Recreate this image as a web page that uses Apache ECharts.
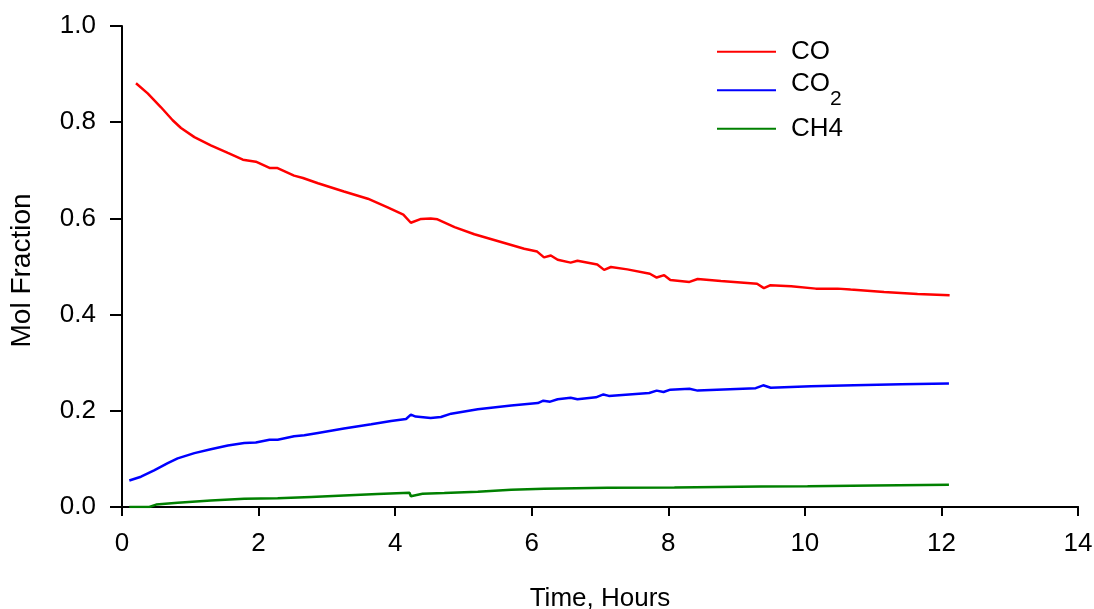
<!DOCTYPE html>
<html>
<head>
<meta charset="utf-8">
<script src="https://cdn.jsdelivr.net/npm/echarts@6/dist/echarts.min.js"></script>
<style>html,body{margin:0;padding:0;background:#fff;}#chart{width:1094px;height:609px;}</style>
</head>
<body>
<div id="chart"></div>
<script>
const seriesNames = ['CO', 'CO2', 'CH4'];
const xTicks = [0, 2, 4, 6, 8, 10, 12, 14];
const yTicks = [0.0, 0.2, 0.4, 0.6, 0.8, 1.0];

const coHours = [0.205,0.376,0.571,0.742,0.864,1.06,1.30,1.55,1.77,1.96,2.16,2.27,2.52,2.65,2.87,3.25,3.60,3.89,4.12,4.23,4.38,4.52,4.62,4.87,5.16,5.55,5.89,6.08,6.18,6.28,6.38,6.57,6.67,6.96,7.06,7.16,7.40,7.73,7.83,7.94,8.03,8.31,8.43,8.77,9.30,9.40,9.49,9.80,10.16,10.48,10.67,11.16,11.65,12.12];
const coValues = [0.881,0.860,0.831,0.804,0.788,0.769,0.752,0.736,0.722,0.718,0.705,0.705,0.689,0.684,0.673,0.656,0.641,0.623,0.608,0.591,0.599,0.600,0.598,0.582,0.567,0.551,0.537,0.531,0.519,0.523,0.514,0.508,0.512,0.504,0.493,0.499,0.494,0.485,0.477,0.482,0.472,0.468,0.474,0.470,0.464,0.455,0.461,0.459,0.454,0.454,0.452,0.447,0.443,0.440];

const co2Hours = [0.107,0.278,0.47,0.67,0.815,1.06,1.30,1.55,1.79,1.96,2.16,2.28,2.52,2.67,2.87,3.25,3.65,3.94,4.16,4.23,4.30,4.52,4.67,4.82,5.21,5.70,6.09,6.17,6.27,6.38,6.57,6.67,6.94,7.05,7.13,7.72,7.83,7.93,8.03,8.31,8.43,9.28,9.39,9.50,10.09,10.72,11.41,12.11];
const co2Values = [0.055,0.063,0.076,0.091,0.101,0.112,0.120,0.128,0.133,0.134,0.140,0.140,0.147,0.149,0.154,0.163,0.172,0.179,0.183,0.192,0.188,0.185,0.187,0.194,0.203,0.211,0.216,0.221,0.219,0.224,0.227,0.224,0.228,0.234,0.231,0.237,0.242,0.239,0.244,0.246,0.242,0.247,0.253,0.248,0.251,0.253,0.255,0.257];

const ch4Hours = [0.107,0.40,0.50,0.815,1.30,1.79,2.28,2.77,3.25,3.74,4.21,4.23,4.40,4.72,5.21,5.70,6.18,7.11,8.09,9.36,10.04,11.01,12.11];
const ch4Values = [0.000,0.000,0.005,0.009,0.0135,0.017,0.018,0.021,0.024,0.027,0.0295,0.0225,0.0275,0.029,0.0316,0.0358,0.0378,0.040,0.0405,0.0426,0.0432,0.0447,0.046];

const colors = ['#ff0000', '#0000ff', '#008000'];
const FONT = 'Liberation Sans, Arial, sans-serif';
const FS = 26;

function pairs(xs, ys) { return xs.map((x, i) => [x, ys[i]]); }

const chart = echarts.init(document.getElementById('chart'));

function legendFor(i, top) {
  return {
    data: [seriesNames[i]],
    left: 717,
    top: top,
    padding: 0,
    orient: 'vertical',
    icon: 'rect',
    itemWidth: 59,
    itemHeight: 2,
    selectedMode: false,
    formatter: function (name) {
      return name === 'CO2' ? '{a|CO}{sub|2}{sp| }' : name;
    },
    textStyle: {
      fontFamily: FONT,
      fontSize: FS,
      color: '#000',
      lineHeight: 26,
      padding: [0, 0, 0, 10],
      rich: {
        a: { fontFamily: FONT, fontSize: FS, lineHeight: 26, verticalAlign: 'top', color: '#000' },
        sub: { fontFamily: FONT, fontSize: 21, lineHeight: 26, verticalAlign: 'bottom', color: '#000' },
        sp: { fontFamily: FONT, fontSize: 1, lineHeight: 38, verticalAlign: 'middle', color: '#000' }
      }
    }
  };
}

chart.setOption({
  animation: false,
  backgroundColor: '#fff',
  color: colors,
  grid: { left: 122, right: 16, top: 26, bottom: 102, containLabel: false, outerBoundsMode: 'none' },
  legend: [legendFor(0, 38.7), legendFor(1, 71.3), legendFor(2, 115.7)],
  xAxis: [{
    type: 'value',
    min: 0, max: 14, interval: 2,
    name: 'Time, Hours',
    nameLocation: 'middle',
    nameGap: 79,
    nameTextStyle: { fontFamily: FONT, fontSize: FS, color: '#000' },
    axisLine: { show: true, onZero: false, lineStyle: { color: '#000', width: 2 } },
    axisTick: { show: true, inside: false, length: 9, lineStyle: { color: '#000', width: 2 } },
    axisLabel: { fontFamily: FONT, fontSize: FS, color: '#000', margin: 24,
      formatter: v => xTicks.includes(v) ? String(v) : '' },
    splitLine: { show: false }
  }, {
    type: 'value',
    position: 'top',
    min: 0, max: 14,
    axisLine: { show: true, lineStyle: { color: '#000', width: 2 } },
    axisTick: { show: false },
    axisLabel: { show: false },
    splitLine: { show: false }
  }],
  yAxis: {
    type: 'value',
    min: 0, max: 1, interval: 0.2,
    name: 'Mol Fraction',
    nameLocation: 'middle',
    nameGap: 86,
    nameTextStyle: { fontFamily: FONT, fontSize: 28, color: '#000', padding: [0, 8, 0, 0] },
    axisLine: { show: true, onZero: false, lineStyle: { color: '#000', width: 2 } },
    axisTick: { show: true, inside: false, length: 12, lineStyle: { color: '#000', width: 2 } },
    axisLabel: { fontFamily: FONT, fontSize: FS, color: '#000', margin: 26,
      formatter: v => yTicks.some(t => Math.abs(t - v) < 1e-9) ? v.toFixed(1) : '' },
    splitLine: { show: false }
  },
  series: [
    { name: 'CO', type: 'line', xAxisIndex: 0, symbol: 'none', data: pairs(coHours, coValues), lineStyle: { width: 2.5, color: colors[0] }, z: 3 },
    { name: 'CO2', type: 'line', xAxisIndex: 0, symbol: 'none', data: pairs(co2Hours, co2Values), lineStyle: { width: 2.5, color: colors[1] }, z: 3 },
    { name: 'CH4', type: 'line', xAxisIndex: 0, symbol: 'none', data: pairs(ch4Hours, ch4Values), lineStyle: { width: 2.5, color: colors[2] }, z: 3 }
  ]
});
</script>
</body>
</html>
